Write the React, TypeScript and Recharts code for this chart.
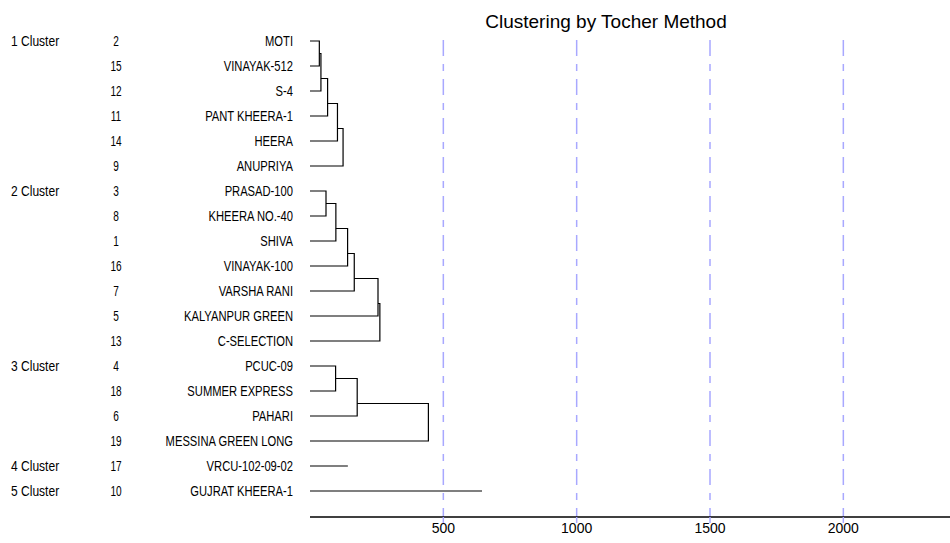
import React from 'react';
import { ScatterChart, Scatter, XAxis, YAxis, ReferenceLine } from 'recharts';

const clusterNames = ['1 Cluster', '2 Cluster', '3 Cluster', '4 Cluster', '5 Cluster'];
const clusterSizes = [6, 7, 4, 1, 1];
const genotypeNumbers = [2, 15, 12, 11, 14, 9, 3, 8, 1, 16, 7, 5, 13, 4, 18, 6, 19, 17, 10];
const genotypeNames = [
  'MOTI', 'VINAYAK-512', 'S-4', 'PANT KHEERA-1', 'HEERA', 'ANUPRIYA',
  'PRASAD-100', 'KHEERA NO.-40', 'SHIVA', 'VINAYAK-100', 'VARSHA RANI', 'KALYANPUR GREEN', 'C-SELECTION',
  'PCUC-09', 'SUMMER EXPRESS', 'PAHARI', 'MESSINA GREEN LONG',
  'VRCU-102-09-02',
  'GUJRAT KHEERA-1',
];
// distance at which each successive genotype joins its cluster
const joinDistances = [
  [35, 41, 66, 103, 124],
  [60, 97, 141, 166, 255, 262],
  [96, 177, 444],
  [142],
  [645],
];
const xTicks = [500, 1000, 1500, 2000];
const X_MAX = 2400;
const rowIndexes = genotypeNames.map((_, i) => i);

const FONT = "'Liberation Sans', Arial, sans-serif";

type Pt = { x: number; y: number };

const rowStart: number[] = [];
const clusterOf: number[] = [];
{
  let acc = 0;
  clusterSizes.forEach((s, c) => {
    rowStart.push(acc);
    for (let k = 0; k < s; k++) clusterOf.push(c);
    acc += s;
  });
}

const paths: Pt[][] = [];
clusterSizes.forEach((size, c) => {
  const r0 = rowStart[c];
  const d = joinDistances[c];
  if (size === 1) {
    paths.push([{ x: 0, y: r0 }, { x: d[0], y: r0 }]);
    return;
  }
  paths.push([
    { x: 0, y: r0 },
    { x: d[0], y: r0 },
    { x: d[0], y: r0 + 1 },
    { x: 0, y: r0 + 1 },
  ]);
  for (let k = 2; k < size; k++) {
    const m = r0 + k - 1.5;
    paths.push([
      { x: d[k - 2], y: m },
      { x: d[k - 1], y: m },
      { x: d[k - 1], y: r0 + k },
      { x: 0, y: r0 + k },
    ]);
  }
});

const RowTick = (props: any) => {
  const { y, payload } = props;
  const i = payload.value as number;
  const c = clusterOf[i];
  const base = y + 5;
  return (
    <g fontFamily={FONT} fontSize={14} fill="#000">
      {rowStart[c] === i && (
        <text transform={`translate(11,${base}) scale(0.86,1)`} textAnchor="start">
          {clusterNames[c]}
        </text>
      )}
      <text transform={`translate(116,${base}) scale(0.72,1)`} textAnchor="middle">
        {genotypeNumbers[i]}
      </text>
      <text transform={`translate(293,${base}) scale(0.8,1)`} textAnchor="end">
        {genotypeNames[i]}
      </text>
    </g>
  );
};

const NoShape = () => <g />;

export default function App() {
  return (
    <div style={{ position: 'absolute', left: 0, top: 0, width: 950, height: 543 }}>
      <ScatterChart width={950} height={543} margin={{ top: 28.5, right: 0, bottom: 0, left: 0 }}>
        <XAxis
          type="number"
          dataKey="x"
          domain={[0, X_MAX]}
          allowDataOverflow
          ticks={xTicks}
          interval={0}
          height={26}
          tickSize={6}
          tickMargin={0}
          axisLine={{ stroke: '#000', strokeWidth: 1.5 }}
          tickLine={{ stroke: '#a8a8ff', strokeWidth: 1.5 }}
          tick={{ fill: '#000', fontSize: 14, fontFamily: FONT }}
        />
        <YAxis
          type="number"
          dataKey="y"
          domain={[-0.5, 19.04]}
          allowDataOverflow
          reversed
          ticks={rowIndexes}
          interval={0}
          width={310}
          axisLine={false}
          tickLine={false}
          tick={<RowTick />}
        />
        {xTicks.map((t) => (
          <ReferenceLine
            key={`g${t}`}
            segment={[
              { x: t, y: -0.04 },
              { x: t, y: 19.04 },
            ]}
            stroke="#a8a8ff"
            strokeWidth={1.5}
            strokeDasharray="16 8 7 8"
          />
        ))}
        {paths.map((p, i) => (
          <Scatter
            key={`p${i}`}
            data={p}
            line={{ stroke: '#000', strokeWidth: 1.2 }}
            lineJointType="linear"
            shape={NoShape}
            isAnimationActive={false}
          />
        ))}
      </ScatterChart>
      <svg
        width={950}
        height={40}
        style={{ position: 'absolute', left: 0, top: 0, pointerEvents: 'none' }}
      >
        <text x={606} y={28} textAnchor="middle" fontFamily={FONT} fontSize={19} fill="#000">
          Clustering by Tocher Method
        </text>
      </svg>
    </div>
  );
}
